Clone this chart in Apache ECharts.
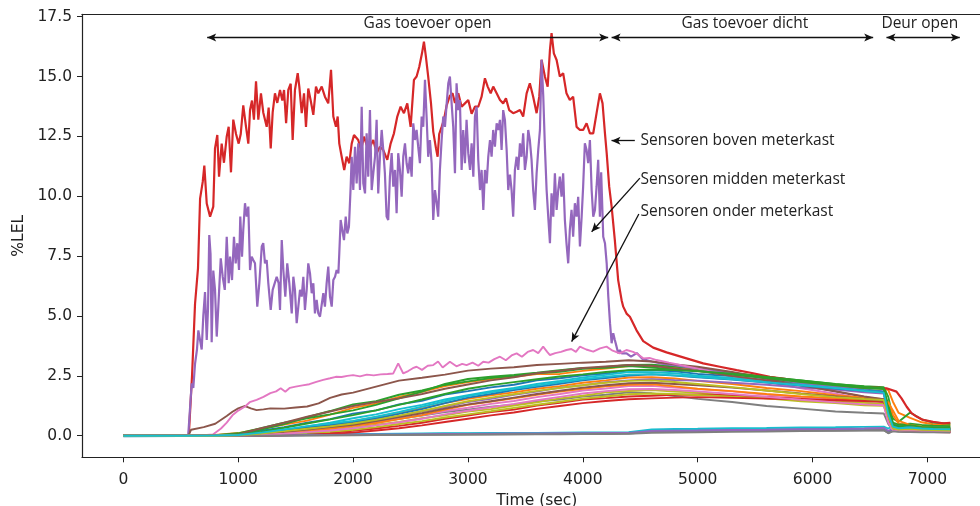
<!DOCTYPE html>
<html>
<head>
<meta charset="utf-8">
<script src="https://cdn.jsdelivr.net/npm/echarts@6/dist/echarts.min.js"></script>
<style>
  html, body { margin: 0; padding: 0; background: #fff; }
  #chart { width: 980px; height: 506px; }
</style>
</head>
<body>
<div id="chart"></div>
<script>
// Gas sensor readings (%LEL) over time (sec) for all sensors in the cabinet test.
const palette = ['#1f77b4', '#ff7f0e', '#2ca02c', '#d62728', '#9467bd', '#8c564b', '#e377c2', '#7f7f7f', '#bcbd22', '#17becf'];
const xTicks = [0, 1000, 2000, 3000, 4000, 5000, 6000, 7000];
const yTicks = [0, 2.5, 5, 7.5, 10, 12.5, 15, 17.5];

// common time base for the slower sensors
const tBase = [0, 500, 800, 1000, 1200, 1400, 1600, 1800, 2000, 2200, 2400, 2600, 2800, 3000, 3200, 3400, 3600, 3800, 4000, 4200, 4400, 4600, 4800, 5000, 5300, 5600, 5900, 6200, 6450, 6620, 6660, 6700, 6750, 6850, 6950, 7050, 7200];

const s00 = [0.00,0.01,0.02,0.05,0.21,0.36,0.54,0.69,0.92,1.06,1.31,1.46,1.72,1.86,2.02,2.13,2.31,2.40,2.52,2.60,2.73,2.74,2.69,2.58,2.49,2.31,2.16,2.01,1.93,1.85,1.15,0.48,0.40,0.43,0.37,0.36,0.34];
const s01 = [0.00,0.00,0.03,0.11,0.29,0.46,0.63,0.88,1.16,1.34,1.62,1.83,2.07,2.24,2.37,2.46,2.57,2.58,2.71,2.80,2.91,2.93,2.85,2.81,2.61,2.46,2.27,2.13,2.01,1.96,1.90,1.42,0.95,0.74,0.56,0.48,0.45];
const s02 = [0.00,0.00,0.00,0.06,0.26,0.49,0.77,1.03,1.31,1.44,1.71,1.89,2.12,2.27,2.41,2.50,2.61,2.67,2.79,2.87,2.96,2.97,2.89,2.81,2.63,2.45,2.31,2.15,2.07,2.03,1.62,0.72,0.58,0.97,0.68,0.55,0.50];

// sensors above the meter cabinet
const bovenT = [0,300,570,580,598,624,650,668,691,705,726,755,783,798,818,833,856,876,900,917,937,957,981,1004,1022,1044,1068,1088,1103,1120,1137,1155,1175,1198,1218,1248,1265,1283,1300,1320,1340,1364,1384,1399,1417,1436,1457,1474,1494,1518,1532,1553,1573,1590,1610,1631,1654,1677,1697,1727,1755,1784,1808,1828,1851,1866,1880,1901,1923,1944,1967,1988,2008,2025,2045,2069,2095,2118,2147,2176,2205,2234,2263,2298,2327,2356,2385,2414,2443,2472,2501,2530,2553,2576,2600,2617,2634,2654,2678,2698,2722,2736,2750,2771,2791,2815,2843,2866,2887,2916,2945,2974,3003,3032,3061,3090,3119,3148,3172,3198,3220,3250,3279,3307,3331,3359,3394,3424,3453,3481,3511,3539,3568,3598,3621,3641,3670,3694,3714,3728,3748,3772,3800,3829,3858,3887,3916,3946,3975,4003,4033,4062,4091,4120,4149,4172,4193,4208,4230,4251,4279,4308,4338,4352,4381,4410,4468,4526,4613,4729,4903,5048,5193,5339,5483,5628,5774,5918,6064,6209,6353,6527,6644,6731,6775,6820,6862,6906,6963,7050,7137,7200];
const bovenV = [0.00,0.01,0.03,0.10,2.50,5.50,7.00,9.90,10.60,11.28,9.70,9.15,9.57,12.00,12.56,10.82,12.20,11.40,12.50,12.90,11.00,13.20,12.60,12.20,12.60,13.80,12.90,12.20,13.60,14.00,13.20,14.80,13.20,14.30,13.50,12.90,13.70,12.00,13.50,14.30,13.90,14.44,14.00,14.44,13.05,14.44,14.70,12.35,14.44,15.14,14.58,13.47,14.30,12.90,14.50,14.00,13.40,14.58,14.30,14.58,14.16,13.88,15.28,13.33,12.90,13.33,12.20,11.65,11.10,11.65,11.38,12.20,12.56,12.63,12.35,11.93,12.49,12.14,12.07,12.35,11.80,12.07,11.93,11.52,12.20,12.63,13.33,13.74,13.47,13.88,12.90,14.86,15.00,15.40,15.97,16.46,15.83,15.00,13.90,12.70,12.00,11.65,12.60,12.90,13.19,13.80,14.20,14.30,13.90,14.30,13.74,13.88,14.02,13.45,13.74,13.74,14.16,14.93,14.58,14.30,14.58,14.30,14.02,13.88,14.09,13.60,13.47,13.53,13.60,13.33,14.30,14.72,14.16,13.47,14.16,15.70,15.00,14.58,16.11,16.81,15.97,15.69,15.00,15.14,14.30,14.02,14.16,12.90,12.77,12.77,13.05,12.63,12.63,13.47,14.30,13.88,12.63,11.80,10.40,9.57,8.17,6.50,5.66,5.39,5.10,4.97,4.40,3.95,3.68,3.48,3.23,3.02,2.88,2.74,2.61,2.46,2.36,2.21,2.12,2.05,2.00,2.02,1.98,1.84,1.56,1.21,0.94,0.80,0.66,0.58,0.52,0.54];

// sensors in the middle of the meter cabinet
const middenT = [0,300,565,574,595,609,624,641,653,668,682,696,711,726,737,748,759,769,783,798,813,827,848,865,883,900,917,929,946,963,978,992,1007,1018,1033,1044,1059,1074,1088,1103,1117,1131,1146,1166,1184,1205,1218,1233,1248,1262,1283,1300,1318,1335,1352,1364,1379,1393,1410,1427,1445,1466,1480,1494,1509,1523,1538,1553,1567,1581,1596,1610,1625,1640,1654,1668,1683,1697,1712,1727,1741,1755,1770,1784,1799,1814,1828,1843,1857,1872,1880,1892,1906,1921,1936,1950,1964,1979,1988,2002,2017,2031,2045,2060,2075,2089,2104,2118,2132,2147,2162,2176,2191,2205,2219,2234,2249,2263,2277,2292,2306,2321,2336,2350,2365,2379,2393,2408,2423,2437,2452,2466,2480,2495,2510,2524,2539,2553,2567,2582,2597,2611,2626,2640,2654,2669,2684,2698,2713,2728,2741,2756,2771,2785,2800,2815,2829,2843,2858,2872,2887,2901,2916,2930,2945,2959,2974,2988,3003,3018,3032,3047,3061,3076,3090,3105,3119,3134,3148,3163,3177,3192,3206,3220,3235,3250,3264,3279,3293,3307,3322,3337,3351,3366,3380,3394,3409,3424,3438,3453,3467,3481,3496,3511,3525,3539,3554,3568,3583,3598,3612,3627,3641,3656,3670,3685,3699,3714,3728,3743,3757,3772,3786,3800,3815,3829,3844,3858,3873,3887,3902,3916,3931,3946,3960,3975,3990,4003,4018,4033,4047,4062,4077,4091,4106,4120,4134,4149,4160,4178,4193,4208,4222,4237,4251,4265,4279,4294,4308,4322,4338,4381,4420,4470,4520,4600,4700,4800,5000,5300,5600,5900,6200,6450,6620,6660,6700,6800,7000,7200];
const middenV = [-0.01,0.02,0.03,0.10,2.19,2.00,3.00,3.60,4.40,4.40,3.60,5.00,6.00,4.00,5.30,8.38,7.60,3.90,6.90,6.10,4.14,5.40,7.41,6.64,6.09,8.31,6.37,7.48,6.50,8.31,7.20,8.04,6.92,9.15,7.48,8.59,9.71,9.15,9.57,6.92,7.48,7.34,7.20,5.39,6.37,7.90,8.04,7.20,7.34,6.37,5.25,6.09,6.37,6.64,6.37,5.25,8.17,6.92,5.81,7.20,6.37,5.11,6.64,6.09,4.70,4.70,6.09,5.81,6.64,5.25,6.09,7.20,6.78,5.95,6.37,5.11,5.67,5.11,4.97,4.97,5.95,5.39,6.37,7.06,5.81,5.39,6.50,6.64,6.92,6.78,7.62,9.01,8.59,8.17,9.15,8.45,8.73,10.40,11.65,10.26,12.07,10.54,12.21,10.26,13.74,10.54,10.12,12.63,10.82,13.60,10.26,10.96,11.65,13.19,10.12,11.65,12.77,11.93,10.96,9.15,9.01,10.82,11.80,10.40,11.10,9.29,11.80,11.10,9.98,11.65,12.21,11.38,10.96,11.65,10.82,13.05,12.35,12.77,12.07,11.38,13.33,12.90,14.86,13.33,11.65,12.35,11.38,9.01,10.26,9.71,9.15,11.10,12.35,13.33,12.90,13.88,14.72,15.00,13.88,12.90,10.96,14.72,13.60,14.02,11.10,12.77,11.38,13.19,11.80,11.10,12.21,10.82,13.33,13.74,11.52,10.26,11.10,9.43,11.10,10.54,11.65,12.35,11.65,12.77,12.07,13.05,12.77,13.19,11.93,13.60,13.19,11.93,10.26,10.90,10.26,9.15,11.10,11.65,11.10,12.21,11.65,12.63,11.10,11.65,12.77,12.35,11.52,10.26,9.43,10.96,11.93,12.77,15.70,14.16,12.07,10.26,9.15,8.04,10.12,9.15,10.96,9.43,10.26,10.82,9.98,10.96,9.01,8.04,7.20,8.59,9.43,8.31,9.71,9.15,9.98,7.90,9.15,10.40,12.21,11.93,11.38,12.35,10.26,9.15,9.43,10.40,11.52,9.15,11.00,8.31,8.04,7.20,5.81,4.70,3.86,4.28,4.00,3.72,3.44,3.58,3.44,3.44,3.30,3.45,3.20,3.10,3.00,2.95,2.80,2.60,2.40,2.20,2.05,1.90,1.82,1.00,0.35,0.30,0.30,0.28];

// early-rising sensor
const brownT = [0,500,570,590,700,800,900,950,1000,1060,1110,1160,1220,1280,1400,1500,1600,1700,1800,1900,2000,2200,2400,2600,2800,3000,3200,3400,3600,3800,4000,4200,4400,4600,4800,5000,5300,5600,5900,6200,6450,6620,6660,6700,6750,6850,6950,7050,7200];
const brownV = [0.00,0.02,0.03,0.25,0.36,0.50,0.82,1.00,1.14,1.24,1.14,1.07,1.10,1.14,1.13,1.18,1.22,1.35,1.58,1.72,1.80,2.05,2.30,2.42,2.55,2.72,2.80,2.86,2.95,3.00,3.05,3.09,3.15,3.10,2.98,2.88,2.66,2.38,2.10,1.84,1.62,1.49,0.92,0.32,0.27,0.28,0.26,0.25,0.24];

// sensors below the meter cabinet
const onderT = [0,500,700,780,850,900,950,1000,1060,1100,1160,1220,1280,1330,1370,1410,1450,1500,1560,1620,1680,1740,1800,1850,1900,1950,2000,2060,2120,2180,2240,2300,2350,2393,2437,2480,2520,2553,2600,2650,2698,2740,2780,2843,2900,2950,2988,3040,3090,3133,3180,3230,3279,3330,3380,3424,3470,3520,3568,3612,3655,3690,3714,3760,3810,3858,3900,3940,3975,4030,4091,4150,4207,4260,4322,4380,4438,4480,4526,4580,4642,4750,4900,5000,5300,5600,5900,6200,6450,6620,6660,6700,6800,6950,7200];
const onderV = [0.00,0.01,0.02,0.05,0.30,0.55,0.85,1.05,1.22,1.40,1.50,1.62,1.78,1.85,1.98,1.84,2.00,2.05,2.10,2.15,2.25,2.33,2.40,2.46,2.45,2.50,2.53,2.48,2.55,2.52,2.56,2.58,2.60,3.02,2.60,2.70,2.82,2.88,2.75,2.92,2.95,3.10,2.85,3.09,2.90,3.00,2.95,3.05,2.92,3.09,3.05,3.20,3.30,3.15,3.35,3.44,3.30,3.50,3.58,3.45,3.72,3.50,3.37,3.45,3.50,3.58,3.62,3.50,3.72,3.60,3.51,3.65,3.72,3.55,3.44,3.58,3.50,3.40,3.23,3.25,3.16,3.05,2.90,2.80,2.50,2.25,1.98,1.75,1.55,1.38,0.70,0.28,0.25,0.22,0.20];

const s07 = [0.00,0.00,0.00,0.01,0.04,0.12,0.23,0.34,0.46,0.57,0.71,0.84,0.99,1.09,1.21,1.29,1.43,1.51,1.63,1.71,1.81,1.77,1.66,1.54,1.41,1.24,1.13,1.01,0.96,0.93,0.48,0.24,0.22,0.21,0.20,0.20,0.18];
const s08 = [0.00,0.00,0.00,0.00,0.02,0.06,0.12,0.23,0.34,0.46,0.57,0.73,0.85,1.01,1.11,1.26,1.39,1.56,1.67,1.81,1.87,1.91,1.84,1.80,1.67,1.56,1.44,1.36,1.27,1.25,0.72,0.30,0.26,0.29,0.25,0.22,0.20];
const s09 = [0.00,0.00,0.00,0.02,0.09,0.21,0.39,0.54,0.73,0.89,1.11,1.29,1.51,1.69,1.86,1.99,2.16,2.29,2.43,2.54,2.66,2.65,2.61,2.51,2.41,2.27,2.13,1.97,1.89,1.82,0.88,0.36,0.30,0.35,0.30,0.28,0.26];
const s10 = [-0.02,-0.01,0.00,0.01,0.02,0.02,0.03,0.04,0.05,0.05,0.06,0.07,0.08,0.08,0.09,0.10,0.10,0.11,0.12,0.12,0.13,0.20,0.22,0.23,0.24,0.26,0.27,0.28,0.29,0.30,0.15,0.25,0.22,0.20,0.20,0.19,0.18];
const s11 = [0.00,0.00,0.01,0.03,0.11,0.19,0.33,0.44,0.61,0.77,0.96,1.14,1.36,1.54,1.69,1.81,1.96,2.07,2.21,2.31,2.43,2.44,2.39,2.29,2.16,1.99,1.86,1.69,1.59,1.52,1.41,0.88,0.50,0.42,0.35,0.32,0.30];
const s12 = [0.00,0.00,0.02,0.10,0.31,0.54,0.73,0.89,1.06,1.29,1.56,1.84,2.16,2.37,2.46,2.54,2.63,2.74,2.83,2.84,2.91,2.85,2.77,2.71,2.54,2.41,2.24,2.11,1.99,1.95,1.28,0.55,0.46,0.50,0.45,0.42,0.40];
const s13 = [0.00,0.00,0.00,0.00,0.01,0.03,0.07,0.12,0.20,0.30,0.41,0.54,0.71,0.84,0.99,1.09,1.26,1.37,1.51,1.57,1.64,1.67,1.71,1.72,1.68,1.62,1.56,1.51,1.46,1.42,0.80,0.30,0.20,0.18,0.17,0.16,0.15];
const s14 = [0.00,0.00,0.00,0.02,0.06,0.15,0.24,0.39,0.49,0.66,0.81,1.01,1.19,1.41,1.54,1.71,1.84,2.01,2.11,2.23,2.31,2.36,2.32,2.30,2.21,2.13,2.01,1.93,1.81,1.76,0.80,0.30,0.28,0.30,0.28,0.26,0.25];
const s15 = [0.00,0.00,0.02,0.05,0.31,0.54,0.79,1.01,1.24,1.41,1.56,1.74,1.96,2.14,2.31,2.44,2.61,2.71,2.83,2.89,2.95,2.92,2.81,2.71,2.49,2.31,2.09,1.86,1.64,1.52,0.90,0.35,0.30,0.31,0.28,0.27,0.25];
const s16 = [0.00,0.00,0.00,0.01,0.05,0.12,0.21,0.29,0.43,0.54,0.71,0.85,1.03,1.17,1.33,1.45,1.61,1.74,1.89,1.97,2.07,2.08,2.01,1.95,1.85,1.71,1.61,1.47,1.39,1.32,0.60,0.25,0.20,0.22,0.20,0.20,0.18];
const s17 = [0.00,0.00,0.00,0.00,0.01,0.01,0.02,0.02,0.03,0.03,0.04,0.04,0.05,0.05,0.06,0.06,0.07,0.07,0.08,0.08,0.09,0.16,0.17,0.18,0.19,0.20,0.21,0.22,0.23,0.24,0.10,0.20,0.17,0.15,0.15,0.15,0.15];
const s18 = [0.00,0.00,0.00,0.00,0.01,0.04,0.09,0.16,0.25,0.36,0.49,0.61,0.76,0.89,1.02,1.16,1.29,1.42,1.55,1.64,1.73,1.76,1.74,1.70,1.63,1.56,1.50,1.43,1.37,1.33,0.70,0.28,0.24,0.26,0.23,0.22,0.21];
const s19 = [0.00,0.00,0.01,0.01,0.02,0.03,0.04,0.05,0.06,0.07,0.08,0.09,0.10,0.10,0.11,0.12,0.12,0.13,0.14,0.14,0.15,0.26,0.28,0.29,0.31,0.32,0.34,0.35,0.37,0.38,0.30,0.40,0.22,0.26,0.25,0.25,0.24];
const s20 = [0.00,0.00,0.01,0.03,0.12,0.24,0.35,0.45,0.56,0.72,0.91,1.11,1.36,1.59,1.74,1.91,2.04,2.17,2.31,2.41,2.51,2.56,2.51,2.44,2.34,2.22,2.09,1.97,1.88,1.83,0.95,0.40,0.33,0.36,0.32,0.30,0.28];
const s21 = [0.00,0.00,0.00,0.01,0.04,0.10,0.19,0.29,0.41,0.53,0.69,0.86,1.09,1.29,1.43,1.56,1.71,1.84,1.96,2.06,2.13,2.15,2.06,1.96,1.86,1.74,1.64,1.57,1.49,1.45,1.38,1.05,0.62,0.45,0.38,0.33,0.30];
const s22 = [0.00,0.00,0.01,0.04,0.16,0.33,0.51,0.68,0.86,1.06,1.29,1.51,1.74,1.96,2.11,2.24,2.36,2.47,2.56,2.66,2.74,2.76,2.74,2.69,2.59,2.45,2.31,2.16,2.05,1.99,1.10,0.45,0.38,0.44,0.37,0.35,0.33];
const s23 = [0.00,0.00,0.00,0.00,0.00,0.02,0.04,0.08,0.13,0.22,0.31,0.43,0.57,0.71,0.85,0.97,1.12,1.24,1.36,1.45,1.52,1.56,1.59,1.61,1.58,1.55,1.52,1.48,1.45,1.43,0.75,0.25,0.19,0.18,0.16,0.15,0.14];
const s24 = [0.00,0.00,0.00,0.01,0.01,0.02,0.03,0.03,0.04,0.05,0.05,0.06,0.07,0.07,0.08,0.09,0.09,0.10,0.10,0.11,0.11,0.20,0.21,0.22,0.24,0.25,0.27,0.28,0.30,0.32,0.20,0.30,0.26,0.24,0.24,0.23,0.22];
const s25 = [0.00,0.00,0.00,0.02,0.07,0.16,0.26,0.36,0.46,0.61,0.78,0.94,1.13,1.31,1.44,1.59,1.74,1.88,2.01,2.11,2.19,2.21,2.16,2.11,2.01,1.89,1.76,1.64,1.53,1.46,0.85,0.32,0.27,0.29,0.26,0.25,0.23];
const s26 = [0.00,0.00,0.00,0.01,0.03,0.08,0.15,0.22,0.31,0.43,0.56,0.71,0.89,1.04,1.19,1.33,1.48,1.62,1.76,1.86,1.94,1.95,1.91,1.85,1.74,1.62,1.50,1.39,1.31,1.27,0.55,0.22,0.19,0.21,0.19,0.18,0.17];
const s27 = [0.00,-0.01,0.00,0.00,0.00,0.01,0.01,0.02,0.02,0.03,0.03,0.04,0.04,0.05,0.05,0.06,0.06,0.06,0.07,0.07,0.08,0.12,0.13,0.14,0.16,0.17,0.19,0.20,0.21,0.22,0.12,0.18,0.16,0.15,0.14,0.14,0.13];
const s28 = [0.00,0.00,0.00,0.02,0.09,0.19,0.29,0.39,0.51,0.66,0.84,1.03,1.24,1.44,1.59,1.73,1.87,1.99,2.11,2.21,2.29,2.31,2.24,2.16,2.03,1.89,1.74,1.61,1.53,1.49,0.80,0.30,0.26,0.28,0.25,0.24,0.22];
const s29 = [0.00,0.00,0.01,0.03,0.13,0.26,0.40,0.51,0.62,0.79,0.99,1.21,1.44,1.66,1.81,1.96,2.09,2.23,2.36,2.46,2.55,2.57,2.52,2.46,2.36,2.23,2.11,1.99,1.87,1.80,0.90,0.38,0.31,0.34,0.30,0.28,0.27];

// phase arrows along the top, and labels
const phases = [
  { text: 'Gas toevoer open', from: 730, to: 4221, labelX: 2649 },
  { text: 'Gas toevoer dicht', from: 4251, to: 6528, labelX: 5411 },
  { text: 'Deur open', from: 6644, to: 7282, labelX: 6934 }
];
const phaseArrowY = 16.63;
const phaseLabelY = 17.2;

const groupLabels = [
  { text: 'Sensoren boven meterkast', x: 4503, y: 12.31, arrowFrom: [4453, 12.32], arrowTo: [4250, 12.32] },
  { text: 'Sensoren midden meterkast', x: 4503, y: 10.71, arrowFrom: [4497, 10.76], arrowTo: [4077, 8.52] },
  { text: 'Sensoren onder meterkast', x: 4503, y: 9.36, arrowFrom: [4488, 9.26], arrowTo: [3903, 3.93] }
];

function zip(t, v) { return t.map((x, i) => [x, v[i]]); }

const sensorData = [
  zip(tBase, s00), zip(tBase, s01), zip(tBase, s02),
  zip(bovenT, bovenV), zip(middenT, middenV), zip(brownT, brownV), zip(onderT, onderV),
  zip(tBase, s07), zip(tBase, s08), zip(tBase, s09), zip(tBase, s10), zip(tBase, s11),
  zip(tBase, s12), zip(tBase, s13), zip(tBase, s14), zip(tBase, s15), zip(tBase, s16),
  zip(tBase, s17), zip(tBase, s18), zip(tBase, s19), zip(tBase, s20), zip(tBase, s21),
  zip(tBase, s22), zip(tBase, s23), zip(tBase, s24), zip(tBase, s25), zip(tBase, s26),
  zip(tBase, s27), zip(tBase, s28), zip(tBase, s29)
];

const textColor = '#222';
const spineColor = '#222';
const tickFont = 'DejaVu Sans';
const tickSize = 15.5;

const series = sensorData.map((d, i) => ({
  type: 'line',
  xAxisIndex: 0,
  yAxisIndex: 0,
  data: d,
  showSymbol: false,
  symbol: 'none',
  lineStyle: { color: palette[i % 10], width: (i === 3 || i === 4) ? 2.2 : 1.9 },
  itemStyle: { color: palette[i % 10] },
  z: 2,
  silent: true
}));

// annotation arrows
const arrowLines = phases.map(p => [
  { coord: [p.from, phaseArrowY], symbol: 'arrow' },
  { coord: [p.to, phaseArrowY], symbol: 'arrow' }
]).concat(groupLabels.map(g => [
  { coord: g.arrowFrom, symbol: 'none' },
  { coord: g.arrowTo, symbol: 'arrow' }
]));

series.push({
  type: 'line',
  xAxisIndex: 0,
  yAxisIndex: 0,
  data: [],
  silent: true,
  z: 5,
  markLine: {
    silent: true,
    animation: false,
    symbolSize: [6, 9],
    label: { show: false },
    lineStyle: { color: '#111', width: 1.3, type: 'solid' },
    emphasis: { disabled: true },
    data: arrowLines
  }
});

const chart = echarts.init(document.getElementById('chart'), null, { renderer: 'canvas' });
chart.setOption({
  animation: false,
  backgroundColor: '#fff',
  grid: { show: false, left: 82, top: 14.3, width: 909.7, height: 443, containLabel: false, outerBoundsMode: 'none' },
  xAxis: [{
    type: 'value', min: -360, max: 7560, position: 'bottom',
    name: 'Time (sec)', nameLocation: 'middle', nameGap: 34,
    nameTextStyle: { fontFamily: tickFont, fontSize: tickSize, color: textColor },
    axisLine: { show: true, onZero: false, lineStyle: { color: spineColor, width: 1.2 } },
    splitLine: { show: false },
    axisTick: { show: true, length: 5, customValues: xTicks, lineStyle: { color: spineColor, width: 1 } },
    axisLabel: { customValues: xTicks, margin: 15, fontFamily: tickFont, fontSize: tickSize, color: textColor,
      formatter: v => String(v) }
  }, {
    // top spine
    type: 'value', min: -360, max: 7560, position: 'top',
    axisLine: { show: true, onZero: false, lineStyle: { color: spineColor, width: 1.2 } },
    axisTick: { show: false }, axisLabel: { show: false }, splitLine: { show: false }
  }],
  yAxis: {
    type: 'value', min: -0.902, max: 17.6,
    name: '%LEL', nameLocation: 'middle', nameGap: 55, nameRotate: 90,
    nameTextStyle: { fontFamily: tickFont, fontSize: tickSize, color: textColor },
    axisLine: { show: true, onZero: false, lineStyle: { color: spineColor, width: 1.2 } },
    splitLine: { show: false },
    axisTick: { show: true, length: 5, customValues: yTicks, lineStyle: { color: spineColor, width: 1 } },
    axisLabel: { customValues: yTicks, margin: 10, fontFamily: tickFont, fontSize: tickSize, color: textColor,
      formatter: v => v.toFixed(1) }
  },
  series: series
});

// text annotations placed in data coordinates
const annFont = '15.5px "Open Sans", "Noto Sans", sans-serif';
const texts = phases.map(p => ({ text: p.text, x: p.labelX, y: phaseLabelY, align: 'center' }))
  .concat(groupLabels.map(g => ({ text: g.text, x: g.x, y: g.y, align: 'left' })));
chart.setOption({
  graphic: texts.map(a => {
    const p = chart.convertToPixel({ xAxisIndex: 0, yAxisIndex: 0 }, [a.x, a.y]);
    return {
      type: 'text', x: p[0], y: p[1], silent: true, z: 10,
      style: { text: a.text, font: annFont, fill: textColor,
        align: a.align, textAlign: a.align, verticalAlign: 'middle', textVerticalAlign: 'middle' }
    };
  })
});
</script>
</body>
</html>
